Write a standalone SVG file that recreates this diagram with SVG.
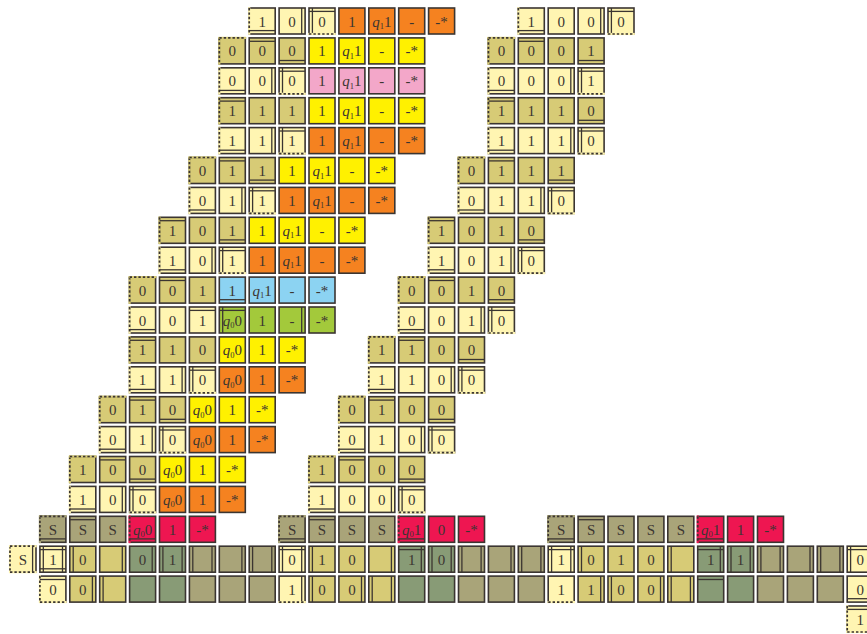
<svg xmlns="http://www.w3.org/2000/svg" xmlns:xlink="http://www.w3.org/1999/xlink" width="867" height="634" viewBox="0 0 867 634">
<style>
.b{fill:currentColor;stroke:#3b3531;stroke-width:1.6}
.w{stroke:#3b3531;stroke-width:1.3;fill:none}
.cv{stroke:currentColor;stroke-width:2.2;fill:none}
.ds{stroke:#3b3531;stroke-width:1.7;stroke-dasharray:2.4 2;fill:none}
text{font-family:"Liberation Serif","Times New Roman",serif;font-size:15px;fill:#3b3531;text-anchor:middle}
.i{font-style:italic}
.s{font-size:8.5px}
.L{color:#FFF5B2}.K{color:#D7CB76}.Y{color:#FFF100}.O{color:#F58220}.P{color:#F3A7C9}.B{color:#8CD3F2}.G{color:#A3C93B}.R{color:#EE1651}.S{color:#A9A479}.N{color:#889B76}
</style>
<defs>
<rect id="bx" class="b" x="1" y="1" width="26" height="26"/>
<path id="wT" class="w" d="M1 4.4H27"/>
<path id="wB" class="w" d="M1 23.6H27"/>
<path id="wL" class="w" d="M4.4 1V27"/>
<path id="wR" class="w" d="M23.6 1V27"/>
<g id="xT"><path class="cv" d="M0.2 1H27.8"/><path class="ds" d="M1 1H27"/></g>
<g id="xB"><path class="cv" d="M0.2 27H27.8"/><path class="ds" d="M1 27H27"/></g>
<g id="xL"><path class="cv" d="M1 0.2V27.8"/><path class="ds" d="M1 1V27"/></g>
<g id="xR"><path class="cv" d="M27 0.2V27.8"/><path class="ds" d="M27 1V27"/></g>
</defs>
<rect width="867" height="634" fill="#ffffff"/>
<g id="tiles">
<!-- row 0 -->
<g id="t0-8" class="L" transform="translate(248.2,7)"><use href="#bx"/><text x="14" y="19.5">1</text><use href="#xL"/><use href="#wB"/></g>
<g id="t0-9" class="L" transform="translate(278.1,7)"><use href="#bx"/><text x="14" y="19.5">0</text><use href="#wR"/></g>
<g id="t0-10" class="L" transform="translate(308,7)"><use href="#bx"/><text x="14" y="19.5">0</text><use href="#wL"/><use href="#wT"/><use href="#xB"/></g>
<g id="t0-11" class="O" transform="translate(337.9,7)"><use href="#bx"/><text x="14" y="19.5">1</text></g>
<g id="t0-12" class="O" transform="translate(367.8,7)"><use href="#bx"/><text x="14" y="19.5"><tspan class="i">q</tspan><tspan class="s" dy="2.5">1</tspan><tspan dy="-2.5">1</tspan></text></g>
<g id="t0-13" class="O" transform="translate(397.7,7)"><use href="#bx"/><text x="14" y="19.5">-</text></g>
<g id="t0-14" class="O" transform="translate(427.6,7)"><use href="#bx"/><text x="14" y="19.5">-*</text></g>
<g id="t0-17" class="L" transform="translate(517.3,7)"><use href="#bx"/><text x="14" y="19.5">1</text><use href="#xL"/><use href="#wB"/></g>
<g id="t0-18" class="L" transform="translate(547.2,7)"><use href="#bx"/><text x="14" y="19.5">0</text></g>
<g id="t0-19" class="L" transform="translate(577.1,7)"><use href="#bx"/><text x="14" y="19.5">0</text><use href="#wR"/></g>
<g id="t0-20" class="L" transform="translate(607,7)"><use href="#bx"/><text x="14" y="19.5">0</text><use href="#wL"/><use href="#wT"/><use href="#xB"/></g>
<!-- row 1 -->
<g id="t1-7" class="K" transform="translate(218.3,36.9)"><use href="#bx"/><text x="14" y="19.5">0</text><use href="#xL"/><use href="#xT"/></g>
<g id="t1-8" class="K" transform="translate(248.2,36.9)"><use href="#bx"/><text x="14" y="19.5">0</text><use href="#wT"/></g>
<g id="t1-9" class="K" transform="translate(278.1,36.9)"><use href="#bx"/><text x="14" y="19.5">0</text><use href="#wB"/></g>
<g id="t1-10" class="Y" transform="translate(308,36.9)"><use href="#bx"/><text x="14" y="19.5">1</text></g>
<g id="t1-11" class="Y" transform="translate(337.9,36.9)"><use href="#bx"/><text x="14" y="19.5"><tspan class="i">q</tspan><tspan class="s" dy="2.5">1</tspan><tspan dy="-2.5">1</tspan></text></g>
<g id="t1-12" class="Y" transform="translate(367.8,36.9)"><use href="#bx"/><text x="14" y="19.5">-</text></g>
<g id="t1-13" class="Y" transform="translate(397.7,36.9)"><use href="#bx"/><text x="14" y="19.5">-*</text></g>
<g id="t1-16" class="K" transform="translate(487.4,36.9)"><use href="#bx"/><text x="14" y="19.5">0</text><use href="#xL"/><use href="#xT"/></g>
<g id="t1-17" class="K" transform="translate(517.3,36.9)"><use href="#bx"/><text x="14" y="19.5">0</text><use href="#wT"/></g>
<g id="t1-18" class="K" transform="translate(547.2,36.9)"><use href="#bx"/><text x="14" y="19.5">0</text></g>
<g id="t1-19" class="K" transform="translate(577.1,36.9)"><use href="#bx"/><text x="14" y="19.5">1</text><use href="#wB"/></g>
<!-- row 2 -->
<g id="t2-7" class="L" transform="translate(218.3,66.8)"><use href="#bx"/><text x="14" y="19.5">0</text><use href="#xL"/><use href="#wB"/></g>
<g id="t2-8" class="L" transform="translate(248.2,66.8)"><use href="#bx"/><text x="14" y="19.5">0</text><use href="#wR"/></g>
<g id="t2-9" class="L" transform="translate(278.1,66.8)"><use href="#bx"/><text x="14" y="19.5">0</text><use href="#wL"/><use href="#wT"/><use href="#xB"/></g>
<g id="t2-10" class="P" transform="translate(308,66.8)"><use href="#bx"/><text x="14" y="19.5">1</text></g>
<g id="t2-11" class="P" transform="translate(337.9,66.8)"><use href="#bx"/><text x="14" y="19.5"><tspan class="i">q</tspan><tspan class="s" dy="2.5">1</tspan><tspan dy="-2.5">1</tspan></text></g>
<g id="t2-12" class="P" transform="translate(367.8,66.8)"><use href="#bx"/><text x="14" y="19.5">-</text></g>
<g id="t2-13" class="P" transform="translate(397.7,66.8)"><use href="#bx"/><text x="14" y="19.5">-*</text></g>
<g id="t2-16" class="L" transform="translate(487.4,66.8)"><use href="#bx"/><text x="14" y="19.5">0</text><use href="#xL"/><use href="#wB"/></g>
<g id="t2-17" class="L" transform="translate(517.3,66.8)"><use href="#bx"/><text x="14" y="19.5">0</text></g>
<g id="t2-18" class="L" transform="translate(547.2,66.8)"><use href="#bx"/><text x="14" y="19.5">0</text><use href="#wR"/></g>
<g id="t2-19" class="L" transform="translate(577.1,66.8)"><use href="#bx"/><text x="14" y="19.5">1</text><use href="#wL"/><use href="#wT"/><use href="#xB"/></g>
<!-- row 3 -->
<g id="t3-7" class="K" transform="translate(218.3,96.7)"><use href="#bx"/><text x="14" y="19.5">1</text><use href="#xL"/><use href="#wT"/></g>
<g id="t3-8" class="K" transform="translate(248.2,96.7)"><use href="#bx"/><text x="14" y="19.5">1</text></g>
<g id="t3-9" class="K" transform="translate(278.1,96.7)"><use href="#bx"/><text x="14" y="19.5">1</text></g>
<g id="t3-10" class="Y" transform="translate(308,96.7)"><use href="#bx"/><text x="14" y="19.5">1</text></g>
<g id="t3-11" class="Y" transform="translate(337.9,96.7)"><use href="#bx"/><text x="14" y="19.5"><tspan class="i">q</tspan><tspan class="s" dy="2.5">1</tspan><tspan dy="-2.5">1</tspan></text></g>
<g id="t3-12" class="Y" transform="translate(367.8,96.7)"><use href="#bx"/><text x="14" y="19.5">-</text></g>
<g id="t3-13" class="Y" transform="translate(397.7,96.7)"><use href="#bx"/><text x="14" y="19.5">-*</text></g>
<g id="t3-16" class="K" transform="translate(487.4,96.7)"><use href="#bx"/><text x="14" y="19.5">1</text><use href="#xL"/><use href="#wT"/></g>
<g id="t3-17" class="K" transform="translate(517.3,96.7)"><use href="#bx"/><text x="14" y="19.5">1</text></g>
<g id="t3-18" class="K" transform="translate(547.2,96.7)"><use href="#bx"/><text x="14" y="19.5">1</text></g>
<g id="t3-19" class="K" transform="translate(577.1,96.7)"><use href="#bx"/><text x="14" y="19.5">0</text><use href="#wB"/></g>
<!-- row 4 -->
<g id="t4-7" class="L" transform="translate(218.3,126.6)"><use href="#bx"/><text x="14" y="19.5">1</text><use href="#xL"/><use href="#wB"/></g>
<g id="t4-8" class="L" transform="translate(248.2,126.6)"><use href="#bx"/><text x="14" y="19.5">1</text><use href="#wR"/></g>
<g id="t4-9" class="L" transform="translate(278.1,126.6)"><use href="#bx"/><text x="14" y="19.5">1</text><use href="#wL"/><use href="#wT"/><use href="#xB"/></g>
<g id="t4-10" class="O" transform="translate(308,126.6)"><use href="#bx"/><text x="14" y="19.5">1</text></g>
<g id="t4-11" class="O" transform="translate(337.9,126.6)"><use href="#bx"/><text x="14" y="19.5"><tspan class="i">q</tspan><tspan class="s" dy="2.5">1</tspan><tspan dy="-2.5">1</tspan></text></g>
<g id="t4-12" class="O" transform="translate(367.8,126.6)"><use href="#bx"/><text x="14" y="19.5">-</text></g>
<g id="t4-13" class="O" transform="translate(397.7,126.6)"><use href="#bx"/><text x="14" y="19.5">-*</text></g>
<g id="t4-16" class="L" transform="translate(487.4,126.6)"><use href="#bx"/><text x="14" y="19.5">1</text><use href="#xL"/><use href="#wB"/></g>
<g id="t4-17" class="L" transform="translate(517.3,126.6)"><use href="#bx"/><text x="14" y="19.5">1</text></g>
<g id="t4-18" class="L" transform="translate(547.2,126.6)"><use href="#bx"/><text x="14" y="19.5">1</text><use href="#wR"/></g>
<g id="t4-19" class="L" transform="translate(577.1,126.6)"><use href="#bx"/><text x="14" y="19.5">0</text><use href="#wL"/><use href="#wT"/><use href="#xB"/></g>
<!-- row 5 -->
<g id="t5-6" class="K" transform="translate(188.4,156.5)"><use href="#bx"/><text x="14" y="19.5">0</text><use href="#xL"/><use href="#xT"/></g>
<g id="t5-7" class="K" transform="translate(218.3,156.5)"><use href="#bx"/><text x="14" y="19.5">1</text><use href="#wT"/></g>
<g id="t5-8" class="K" transform="translate(248.2,156.5)"><use href="#bx"/><text x="14" y="19.5">1</text><use href="#wB"/></g>
<g id="t5-9" class="Y" transform="translate(278.1,156.5)"><use href="#bx"/><text x="14" y="19.5">1</text></g>
<g id="t5-10" class="Y" transform="translate(308,156.5)"><use href="#bx"/><text x="14" y="19.5"><tspan class="i">q</tspan><tspan class="s" dy="2.5">1</tspan><tspan dy="-2.5">1</tspan></text></g>
<g id="t5-11" class="Y" transform="translate(337.9,156.5)"><use href="#bx"/><text x="14" y="19.5">-</text></g>
<g id="t5-12" class="Y" transform="translate(367.8,156.5)"><use href="#bx"/><text x="14" y="19.5">-*</text></g>
<g id="t5-15" class="K" transform="translate(457.5,156.5)"><use href="#bx"/><text x="14" y="19.5">0</text><use href="#xL"/><use href="#xT"/></g>
<g id="t5-16" class="K" transform="translate(487.4,156.5)"><use href="#bx"/><text x="14" y="19.5">1</text><use href="#wT"/></g>
<g id="t5-17" class="K" transform="translate(517.3,156.5)"><use href="#bx"/><text x="14" y="19.5">1</text></g>
<g id="t5-18" class="K" transform="translate(547.2,156.5)"><use href="#bx"/><text x="14" y="19.5">1</text><use href="#wB"/></g>
<!-- row 6 -->
<g id="t6-6" class="L" transform="translate(188.4,186.4)"><use href="#bx"/><text x="14" y="19.5">0</text><use href="#xL"/><use href="#wB"/></g>
<g id="t6-7" class="L" transform="translate(218.3,186.4)"><use href="#bx"/><text x="14" y="19.5">1</text><use href="#wR"/></g>
<g id="t6-8" class="L" transform="translate(248.2,186.4)"><use href="#bx"/><text x="14" y="19.5">1</text><use href="#wL"/><use href="#wT"/><use href="#xB"/></g>
<g id="t6-9" class="O" transform="translate(278.1,186.4)"><use href="#bx"/><text x="14" y="19.5">1</text></g>
<g id="t6-10" class="O" transform="translate(308,186.4)"><use href="#bx"/><text x="14" y="19.5"><tspan class="i">q</tspan><tspan class="s" dy="2.5">1</tspan><tspan dy="-2.5">1</tspan></text></g>
<g id="t6-11" class="O" transform="translate(337.9,186.4)"><use href="#bx"/><text x="14" y="19.5">-</text></g>
<g id="t6-12" class="O" transform="translate(367.8,186.4)"><use href="#bx"/><text x="14" y="19.5">-*</text></g>
<g id="t6-15" class="L" transform="translate(457.5,186.4)"><use href="#bx"/><text x="14" y="19.5">0</text><use href="#xL"/><use href="#wB"/></g>
<g id="t6-16" class="L" transform="translate(487.4,186.4)"><use href="#bx"/><text x="14" y="19.5">1</text></g>
<g id="t6-17" class="L" transform="translate(517.3,186.4)"><use href="#bx"/><text x="14" y="19.5">1</text><use href="#wR"/></g>
<g id="t6-18" class="L" transform="translate(547.2,186.4)"><use href="#bx"/><text x="14" y="19.5">0</text><use href="#wL"/><use href="#wT"/><use href="#xB"/></g>
<!-- row 7 -->
<g id="t7-5" class="K" transform="translate(158.5,216.3)"><use href="#bx"/><text x="14" y="19.5">1</text><use href="#xL"/><use href="#wT"/></g>
<g id="t7-6" class="K" transform="translate(188.4,216.3)"><use href="#bx"/><text x="14" y="19.5">0</text></g>
<g id="t7-7" class="K" transform="translate(218.3,216.3)"><use href="#bx"/><text x="14" y="19.5">1</text><use href="#wB"/></g>
<g id="t7-8" class="Y" transform="translate(248.2,216.3)"><use href="#bx"/><text x="14" y="19.5">1</text></g>
<g id="t7-9" class="Y" transform="translate(278.1,216.3)"><use href="#bx"/><text x="14" y="19.5"><tspan class="i">q</tspan><tspan class="s" dy="2.5">1</tspan><tspan dy="-2.5">1</tspan></text></g>
<g id="t7-10" class="Y" transform="translate(308,216.3)"><use href="#bx"/><text x="14" y="19.5">-</text></g>
<g id="t7-11" class="Y" transform="translate(337.9,216.3)"><use href="#bx"/><text x="14" y="19.5">-*</text></g>
<g id="t7-14" class="K" transform="translate(427.6,216.3)"><use href="#bx"/><text x="14" y="19.5">1</text><use href="#xL"/><use href="#wT"/></g>
<g id="t7-15" class="K" transform="translate(457.5,216.3)"><use href="#bx"/><text x="14" y="19.5">0</text></g>
<g id="t7-16" class="K" transform="translate(487.4,216.3)"><use href="#bx"/><text x="14" y="19.5">1</text></g>
<g id="t7-17" class="K" transform="translate(517.3,216.3)"><use href="#bx"/><text x="14" y="19.5">0</text><use href="#wB"/></g>
<!-- row 8 -->
<g id="t8-5" class="L" transform="translate(158.5,246.2)"><use href="#bx"/><text x="14" y="19.5">1</text><use href="#xL"/><use href="#wB"/></g>
<g id="t8-6" class="L" transform="translate(188.4,246.2)"><use href="#bx"/><text x="14" y="19.5">0</text><use href="#wR"/></g>
<g id="t8-7" class="L" transform="translate(218.3,246.2)"><use href="#bx"/><text x="14" y="19.5">1</text><use href="#wL"/><use href="#wT"/><use href="#xB"/></g>
<g id="t8-8" class="O" transform="translate(248.2,246.2)"><use href="#bx"/><text x="14" y="19.5">1</text></g>
<g id="t8-9" class="O" transform="translate(278.1,246.2)"><use href="#bx"/><text x="14" y="19.5"><tspan class="i">q</tspan><tspan class="s" dy="2.5">1</tspan><tspan dy="-2.5">1</tspan></text></g>
<g id="t8-10" class="O" transform="translate(308,246.2)"><use href="#bx"/><text x="14" y="19.5">-</text></g>
<g id="t8-11" class="O" transform="translate(337.9,246.2)"><use href="#bx"/><text x="14" y="19.5">-*</text></g>
<g id="t8-14" class="L" transform="translate(427.6,246.2)"><use href="#bx"/><text x="14" y="19.5">1</text><use href="#xL"/><use href="#wB"/></g>
<g id="t8-15" class="L" transform="translate(457.5,246.2)"><use href="#bx"/><text x="14" y="19.5">0</text></g>
<g id="t8-16" class="L" transform="translate(487.4,246.2)"><use href="#bx"/><text x="14" y="19.5">1</text><use href="#wR"/></g>
<g id="t8-17" class="L" transform="translate(517.3,246.2)"><use href="#bx"/><text x="14" y="19.5">0</text><use href="#wL"/><use href="#wT"/><use href="#xB"/></g>
<!-- row 9 -->
<g id="t9-4" class="K" transform="translate(128.6,276.1)"><use href="#bx"/><text x="14" y="19.5">0</text><use href="#xL"/><use href="#xT"/></g>
<g id="t9-5" class="K" transform="translate(158.5,276.1)"><use href="#bx"/><text x="14" y="19.5">0</text><use href="#wT"/></g>
<g id="t9-6" class="K" transform="translate(188.4,276.1)"><use href="#bx"/><text x="14" y="19.5">1</text></g>
<g id="t9-7" class="B" transform="translate(218.3,276.1)"><use href="#bx"/><text x="14" y="19.5">1</text><use href="#wB"/></g>
<g id="t9-8" class="B" transform="translate(248.2,276.1)"><use href="#bx"/><text x="14" y="19.5"><tspan class="i">q</tspan><tspan class="s" dy="2.5">1</tspan><tspan dy="-2.5">1</tspan></text></g>
<g id="t9-9" class="B" transform="translate(278.1,276.1)"><use href="#bx"/><text x="14" y="19.5">-</text></g>
<g id="t9-10" class="B" transform="translate(308,276.1)"><use href="#bx"/><text x="14" y="19.5">-*</text></g>
<g id="t9-13" class="K" transform="translate(397.7,276.1)"><use href="#bx"/><text x="14" y="19.5">0</text><use href="#xL"/><use href="#xT"/></g>
<g id="t9-14" class="K" transform="translate(427.6,276.1)"><use href="#bx"/><text x="14" y="19.5">0</text><use href="#wT"/></g>
<g id="t9-15" class="K" transform="translate(457.5,276.1)"><use href="#bx"/><text x="14" y="19.5">1</text></g>
<g id="t9-16" class="K" transform="translate(487.4,276.1)"><use href="#bx"/><text x="14" y="19.5">0</text><use href="#wB"/></g>
<!-- row 10 -->
<g id="t10-4" class="L" transform="translate(128.6,306)"><use href="#bx"/><text x="14" y="19.5">0</text><use href="#xL"/><use href="#wB"/></g>
<g id="t10-5" class="L" transform="translate(158.5,306)"><use href="#bx"/><text x="14" y="19.5">0</text></g>
<g id="t10-6" class="L" transform="translate(188.4,306)"><use href="#bx"/><text x="14" y="19.5">1</text><use href="#wT"/></g>
<g id="t10-7" class="G" transform="translate(218.3,306)"><use href="#bx"/><text x="14" y="19.5"><tspan class="i">q</tspan><tspan class="s" dy="2.5">0</tspan><tspan dy="-2.5">0</tspan></text><use href="#wL"/><use href="#wT"/></g>
<g id="t10-8" class="G" transform="translate(248.2,306)"><use href="#bx"/><text x="14" y="19.5">1</text></g>
<g id="t10-9" class="G" transform="translate(278.1,306)"><use href="#bx"/><text x="14" y="19.5">-</text><use href="#wR"/></g>
<g id="t10-10" class="G" transform="translate(308,306)"><use href="#bx"/><text x="14" y="19.5">-*</text></g>
<g id="t10-13" class="L" transform="translate(397.7,306)"><use href="#bx"/><text x="14" y="19.5">0</text><use href="#xL"/><use href="#wB"/></g>
<g id="t10-14" class="L" transform="translate(427.6,306)"><use href="#bx"/><text x="14" y="19.5">0</text></g>
<g id="t10-15" class="L" transform="translate(457.5,306)"><use href="#bx"/><text x="14" y="19.5">1</text><use href="#wR"/></g>
<g id="t10-16" class="L" transform="translate(487.4,306)"><use href="#bx"/><text x="14" y="19.5">0</text><use href="#wL"/><use href="#wT"/><use href="#xB"/></g>
<!-- row 11 -->
<g id="t11-4" class="K" transform="translate(128.6,335.9)"><use href="#bx"/><text x="14" y="19.5">1</text><use href="#xL"/><use href="#wT"/></g>
<g id="t11-5" class="K" transform="translate(158.5,335.9)"><use href="#bx"/><text x="14" y="19.5">1</text></g>
<g id="t11-6" class="K" transform="translate(188.4,335.9)"><use href="#bx"/><text x="14" y="19.5">0</text></g>
<g id="t11-7" class="Y" transform="translate(218.3,335.9)"><use href="#bx"/><text x="14" y="19.5"><tspan class="i">q</tspan><tspan class="s" dy="2.5">0</tspan><tspan dy="-2.5">0</tspan></text></g>
<g id="t11-8" class="Y" transform="translate(248.2,335.9)"><use href="#bx"/><text x="14" y="19.5">1</text></g>
<g id="t11-9" class="Y" transform="translate(278.1,335.9)"><use href="#bx"/><text x="14" y="19.5">-*</text></g>
<g id="t11-12" class="K" transform="translate(367.8,335.9)"><use href="#bx"/><text x="14" y="19.5">1</text><use href="#xL"/><use href="#xT"/></g>
<g id="t11-13" class="K" transform="translate(397.7,335.9)"><use href="#bx"/><text x="14" y="19.5">1</text><use href="#wT"/></g>
<g id="t11-14" class="K" transform="translate(427.6,335.9)"><use href="#bx"/><text x="14" y="19.5">0</text></g>
<g id="t11-15" class="K" transform="translate(457.5,335.9)"><use href="#bx"/><text x="14" y="19.5">0</text><use href="#wB"/></g>
<!-- row 12 -->
<g id="t12-4" class="L" transform="translate(128.6,365.8)"><use href="#bx"/><text x="14" y="19.5">1</text><use href="#xL"/><use href="#wB"/></g>
<g id="t12-5" class="L" transform="translate(158.5,365.8)"><use href="#bx"/><text x="14" y="19.5">1</text><use href="#wR"/></g>
<g id="t12-6" class="L" transform="translate(188.4,365.8)"><use href="#bx"/><text x="14" y="19.5">0</text><use href="#wL"/><use href="#wT"/><use href="#xB"/></g>
<g id="t12-7" class="O" transform="translate(218.3,365.8)"><use href="#bx"/><text x="14" y="19.5"><tspan class="i">q</tspan><tspan class="s" dy="2.5">0</tspan><tspan dy="-2.5">0</tspan></text></g>
<g id="t12-8" class="O" transform="translate(248.2,365.8)"><use href="#bx"/><text x="14" y="19.5">1</text></g>
<g id="t12-9" class="O" transform="translate(278.1,365.8)"><use href="#bx"/><text x="14" y="19.5">-*</text></g>
<g id="t12-12" class="L" transform="translate(367.8,365.8)"><use href="#bx"/><text x="14" y="19.5">1</text><use href="#xL"/><use href="#wB"/></g>
<g id="t12-13" class="L" transform="translate(397.7,365.8)"><use href="#bx"/><text x="14" y="19.5">1</text></g>
<g id="t12-14" class="L" transform="translate(427.6,365.8)"><use href="#bx"/><text x="14" y="19.5">0</text><use href="#wR"/></g>
<g id="t12-15" class="L" transform="translate(457.5,365.8)"><use href="#bx"/><text x="14" y="19.5">0</text><use href="#wL"/><use href="#wT"/><use href="#xB"/></g>
<!-- row 13 -->
<g id="t13-3" class="K" transform="translate(98.7,395.7)"><use href="#bx"/><text x="14" y="19.5">0</text><use href="#xL"/><use href="#xT"/></g>
<g id="t13-4" class="K" transform="translate(128.6,395.7)"><use href="#bx"/><text x="14" y="19.5">1</text><use href="#wT"/></g>
<g id="t13-5" class="K" transform="translate(158.5,395.7)"><use href="#bx"/><text x="14" y="19.5">0</text><use href="#wB"/></g>
<g id="t13-6" class="Y" transform="translate(188.4,395.7)"><use href="#bx"/><text x="14" y="19.5"><tspan class="i">q</tspan><tspan class="s" dy="2.5">0</tspan><tspan dy="-2.5">0</tspan></text></g>
<g id="t13-7" class="Y" transform="translate(218.3,395.7)"><use href="#bx"/><text x="14" y="19.5">1</text></g>
<g id="t13-8" class="Y" transform="translate(248.2,395.7)"><use href="#bx"/><text x="14" y="19.5">-*</text></g>
<g id="t13-11" class="K" transform="translate(337.9,395.7)"><use href="#bx"/><text x="14" y="19.5">0</text><use href="#xL"/><use href="#xT"/></g>
<g id="t13-12" class="K" transform="translate(367.8,395.7)"><use href="#bx"/><text x="14" y="19.5">1</text><use href="#wT"/></g>
<g id="t13-13" class="K" transform="translate(397.7,395.7)"><use href="#bx"/><text x="14" y="19.5">0</text></g>
<g id="t13-14" class="K" transform="translate(427.6,395.7)"><use href="#bx"/><text x="14" y="19.5">0</text><use href="#wB"/></g>
<!-- row 14 -->
<g id="t14-3" class="L" transform="translate(98.7,425.6)"><use href="#bx"/><text x="14" y="19.5">0</text><use href="#xL"/><use href="#wB"/></g>
<g id="t14-4" class="L" transform="translate(128.6,425.6)"><use href="#bx"/><text x="14" y="19.5">1</text><use href="#wR"/></g>
<g id="t14-5" class="L" transform="translate(158.5,425.6)"><use href="#bx"/><text x="14" y="19.5">0</text><use href="#wL"/><use href="#wT"/><use href="#xB"/></g>
<g id="t14-6" class="O" transform="translate(188.4,425.6)"><use href="#bx"/><text x="14" y="19.5"><tspan class="i">q</tspan><tspan class="s" dy="2.5">0</tspan><tspan dy="-2.5">0</tspan></text></g>
<g id="t14-7" class="O" transform="translate(218.3,425.6)"><use href="#bx"/><text x="14" y="19.5">1</text></g>
<g id="t14-8" class="O" transform="translate(248.2,425.6)"><use href="#bx"/><text x="14" y="19.5">-*</text></g>
<g id="t14-11" class="L" transform="translate(337.9,425.6)"><use href="#bx"/><text x="14" y="19.5">0</text><use href="#xL"/><use href="#wB"/></g>
<g id="t14-12" class="L" transform="translate(367.8,425.6)"><use href="#bx"/><text x="14" y="19.5">1</text></g>
<g id="t14-13" class="L" transform="translate(397.7,425.6)"><use href="#bx"/><text x="14" y="19.5">0</text><use href="#wR"/></g>
<g id="t14-14" class="L" transform="translate(427.6,425.6)"><use href="#bx"/><text x="14" y="19.5">0</text><use href="#wL"/><use href="#wT"/><use href="#xB"/></g>
<!-- row 15 -->
<g id="t15-2" class="K" transform="translate(68.8,455.5)"><use href="#bx"/><text x="14" y="19.5">1</text><use href="#xL"/><use href="#xT"/></g>
<g id="t15-3" class="K" transform="translate(98.7,455.5)"><use href="#bx"/><text x="14" y="19.5">0</text><use href="#wT"/></g>
<g id="t15-4" class="K" transform="translate(128.6,455.5)"><use href="#bx"/><text x="14" y="19.5">0</text><use href="#wB"/></g>
<g id="t15-5" class="Y" transform="translate(158.5,455.5)"><use href="#bx"/><text x="14" y="19.5"><tspan class="i">q</tspan><tspan class="s" dy="2.5">0</tspan><tspan dy="-2.5">0</tspan></text></g>
<g id="t15-6" class="Y" transform="translate(188.4,455.5)"><use href="#bx"/><text x="14" y="19.5">1</text></g>
<g id="t15-7" class="Y" transform="translate(218.3,455.5)"><use href="#bx"/><text x="14" y="19.5">-*</text></g>
<g id="t15-10" class="K" transform="translate(308,455.5)"><use href="#bx"/><text x="14" y="19.5">1</text><use href="#xL"/><use href="#xT"/></g>
<g id="t15-11" class="K" transform="translate(337.9,455.5)"><use href="#bx"/><text x="14" y="19.5">0</text><use href="#wT"/></g>
<g id="t15-12" class="K" transform="translate(367.8,455.5)"><use href="#bx"/><text x="14" y="19.5">0</text></g>
<g id="t15-13" class="K" transform="translate(397.7,455.5)"><use href="#bx"/><text x="14" y="19.5">0</text><use href="#wB"/></g>
<!-- row 16 -->
<g id="t16-2" class="L" transform="translate(68.8,485.4)"><use href="#bx"/><text x="14" y="19.5">1</text><use href="#xL"/><use href="#wB"/></g>
<g id="t16-3" class="L" transform="translate(98.7,485.4)"><use href="#bx"/><text x="14" y="19.5">0</text><use href="#wR"/></g>
<g id="t16-4" class="L" transform="translate(128.6,485.4)"><use href="#bx"/><text x="14" y="19.5">0</text><use href="#wL"/><use href="#wT"/><use href="#xB"/></g>
<g id="t16-5" class="O" transform="translate(158.5,485.4)"><use href="#bx"/><text x="14" y="19.5"><tspan class="i">q</tspan><tspan class="s" dy="2.5">0</tspan><tspan dy="-2.5">0</tspan></text></g>
<g id="t16-6" class="O" transform="translate(188.4,485.4)"><use href="#bx"/><text x="14" y="19.5">1</text></g>
<g id="t16-7" class="O" transform="translate(218.3,485.4)"><use href="#bx"/><text x="14" y="19.5">-*</text></g>
<g id="t16-10" class="L" transform="translate(308,485.4)"><use href="#bx"/><text x="14" y="19.5">1</text><use href="#xL"/><use href="#wB"/></g>
<g id="t16-11" class="L" transform="translate(337.9,485.4)"><use href="#bx"/><text x="14" y="19.5">0</text></g>
<g id="t16-12" class="L" transform="translate(367.8,485.4)"><use href="#bx"/><text x="14" y="19.5">0</text><use href="#wR"/></g>
<g id="t16-13" class="L" transform="translate(397.7,485.4)"><use href="#bx"/><text x="14" y="19.5">0</text><use href="#wL"/><use href="#wT"/><use href="#xB"/></g>
<!-- row 17 -->
<g id="t17-1" class="S" transform="translate(38.9,515.3)"><use href="#bx"/><text x="14" y="19.5">S</text><use href="#xL"/><use href="#xT"/><use href="#wB"/></g>
<g id="t17-2" class="S" transform="translate(68.8,515.3)"><use href="#bx"/><text x="14" y="19.5">S</text><use href="#wT"/></g>
<g id="t17-3" class="S" transform="translate(98.7,515.3)"><use href="#bx"/><text x="14" y="19.5">S</text></g>
<g id="t17-4" class="R" transform="translate(128.6,515.3)"><use href="#bx"/><text x="14" y="19.5"><tspan class="i">q</tspan><tspan class="s" dy="2.5">0</tspan><tspan dy="-2.5">0</tspan></text><use href="#xL"/><use href="#wB"/></g>
<g id="t17-5" class="R" transform="translate(158.5,515.3)"><use href="#bx"/><text x="14" y="19.5">1</text></g>
<g id="t17-6" class="R" transform="translate(188.4,515.3)"><use href="#bx"/><text x="14" y="19.5">-*</text></g>
<g id="t17-9" class="S" transform="translate(278.1,515.3)"><use href="#bx"/><text x="14" y="19.5">S</text><use href="#xL"/><use href="#xT"/><use href="#wB"/></g>
<g id="t17-10" class="S" transform="translate(308,515.3)"><use href="#bx"/><text x="14" y="19.5">S</text><use href="#wT"/></g>
<g id="t17-11" class="S" transform="translate(337.9,515.3)"><use href="#bx"/><text x="14" y="19.5">S</text></g>
<g id="t17-12" class="S" transform="translate(367.8,515.3)"><use href="#bx"/><text x="14" y="19.5">S</text></g>
<g id="t17-13" class="R" transform="translate(397.7,515.3)"><use href="#bx"/><text x="14" y="19.5"><tspan class="i">q</tspan><tspan class="s" dy="2.5">0</tspan><tspan dy="-2.5">1</tspan></text><use href="#xL"/><use href="#wB"/></g>
<g id="t17-14" class="R" transform="translate(427.6,515.3)"><use href="#bx"/><text x="14" y="19.5">0</text></g>
<g id="t17-15" class="R" transform="translate(457.5,515.3)"><use href="#bx"/><text x="14" y="19.5">-*</text></g>
<g id="t17-18" class="S" transform="translate(547.2,515.3)"><use href="#bx"/><text x="14" y="19.5">S</text><use href="#xL"/><use href="#xT"/><use href="#wB"/></g>
<g id="t17-19" class="S" transform="translate(577.1,515.3)"><use href="#bx"/><text x="14" y="19.5">S</text><use href="#wT"/></g>
<g id="t17-20" class="S" transform="translate(607,515.3)"><use href="#bx"/><text x="14" y="19.5">S</text></g>
<g id="t17-21" class="S" transform="translate(636.9,515.3)"><use href="#bx"/><text x="14" y="19.5">S</text></g>
<g id="t17-22" class="S" transform="translate(666.8,515.3)"><use href="#bx"/><text x="14" y="19.5">S</text></g>
<g id="t17-23" class="R" transform="translate(696.7,515.3)"><use href="#bx"/><text x="14" y="19.5"><tspan class="i">q</tspan><tspan class="s" dy="2.5">0</tspan><tspan dy="-2.5">1</tspan></text><use href="#xL"/><use href="#wB"/></g>
<g id="t17-24" class="R" transform="translate(726.6,515.3)"><use href="#bx"/><text x="14" y="19.5">1</text></g>
<g id="t17-25" class="R" transform="translate(756.5,515.3)"><use href="#bx"/><text x="14" y="19.5">-*</text></g>
<!-- row 18 -->
<g id="t18-0" class="L" transform="translate(9,545.2)"><use href="#bx"/><text x="14" y="19.5">S</text><use href="#xL"/><use href="#xT"/><use href="#xB"/><use href="#wR"/></g>
<g id="t18-1" class="L" transform="translate(38.9,545.2)"><use href="#bx"/><text x="14" y="19.5">1</text><use href="#wL"/><use href="#wR"/><use href="#wT"/><use href="#wB"/></g>
<g id="t18-2" class="K" transform="translate(68.8,545.2)"><use href="#bx"/><text x="14" y="19.5">0</text><use href="#wL"/></g>
<g id="t18-3" class="K" transform="translate(98.7,545.2)"><use href="#bx"/><use href="#wR"/></g>
<g id="t18-4" class="N" transform="translate(128.6,545.2)"><use href="#bx"/><text x="14" y="19.5">0</text><use href="#wR"/></g>
<g id="t18-5" class="N" transform="translate(158.5,545.2)"><use href="#bx"/><text x="14" y="19.5">1</text><use href="#wL"/><use href="#wR"/></g>
<g id="t18-6" class="S" transform="translate(188.4,545.2)"><use href="#bx"/><use href="#wL"/><use href="#wR"/></g>
<g id="t18-7" class="S" transform="translate(218.3,545.2)"><use href="#bx"/><use href="#wR"/></g>
<g id="t18-8" class="S" transform="translate(248.2,545.2)"><use href="#bx"/><use href="#wL"/><use href="#wR"/></g>
<g id="t18-9" class="L" transform="translate(278.1,545.2)"><use href="#bx"/><text x="14" y="19.5">0</text><use href="#wL"/><use href="#wT"/><use href="#wR"/></g>
<g id="t18-10" class="K" transform="translate(308,545.2)"><use href="#bx"/><text x="14" y="19.5">1</text><use href="#wL"/></g>
<g id="t18-11" class="K" transform="translate(337.9,545.2)"><use href="#bx"/><text x="14" y="19.5">0</text></g>
<g id="t18-12" class="K" transform="translate(367.8,545.2)"><use href="#bx"/><use href="#wR"/></g>
<g id="t18-13" class="N" transform="translate(397.7,545.2)"><use href="#bx"/><text x="14" y="19.5">1</text><use href="#wT"/><use href="#wR"/></g>
<g id="t18-14" class="N" transform="translate(427.6,545.2)"><use href="#bx"/><text x="14" y="19.5">0</text><use href="#wL"/><use href="#wR"/></g>
<g id="t18-15" class="S" transform="translate(457.5,545.2)"><use href="#bx"/><use href="#wL"/><use href="#wR"/></g>
<g id="t18-16" class="S" transform="translate(487.4,545.2)"><use href="#bx"/><use href="#wR"/></g>
<g id="t18-17" class="S" transform="translate(517.3,545.2)"><use href="#bx"/><use href="#wL"/><use href="#wR"/></g>
<g id="t18-18" class="L" transform="translate(547.2,545.2)"><use href="#bx"/><text x="14" y="19.5">1</text><use href="#wL"/><use href="#wT"/><use href="#wR"/></g>
<g id="t18-19" class="K" transform="translate(577.1,545.2)"><use href="#bx"/><text x="14" y="19.5">0</text><use href="#wL"/></g>
<g id="t18-20" class="K" transform="translate(607,545.2)"><use href="#bx"/><text x="14" y="19.5">1</text></g>
<g id="t18-21" class="K" transform="translate(636.9,545.2)"><use href="#bx"/><text x="14" y="19.5">0</text></g>
<g id="t18-22" class="K" transform="translate(666.8,545.2)"><use href="#bx"/><use href="#wL"/></g>
<g id="t18-23" class="N" transform="translate(696.7,545.2)"><use href="#bx"/><text x="14" y="19.5">1</text><use href="#wT"/><use href="#wR"/></g>
<g id="t18-24" class="N" transform="translate(726.6,545.2)"><use href="#bx"/><text x="14" y="19.5">1</text><use href="#wL"/><use href="#wR"/></g>
<g id="t18-25" class="S" transform="translate(756.5,545.2)"><use href="#bx"/><use href="#wL"/><use href="#wR"/></g>
<g id="t18-26" class="S" transform="translate(786.4,545.2)"><use href="#bx"/><use href="#wR"/></g>
<g id="t18-27" class="S" transform="translate(816.3,545.2)"><use href="#bx"/><use href="#wL"/><use href="#wR"/></g>
<g id="t18-28" class="L" transform="translate(846.2,545.2)"><use href="#bx"/><text x="14" y="19.5">0</text><use href="#wL"/><use href="#wT"/></g>
<!-- row 19 -->
<g id="t19-1" class="L" transform="translate(38.9,575.1)"><use href="#bx"/><text x="14" y="19.5">0</text><use href="#xL"/><use href="#wT"/><use href="#xB"/></g>
<g id="t19-2" class="K" transform="translate(68.8,575.1)"><use href="#bx"/><text x="14" y="19.5">0</text><use href="#wR"/></g>
<g id="t19-3" class="K" transform="translate(98.7,575.1)"><use href="#bx"/><use href="#wL"/></g>
<g id="t19-4" class="N" transform="translate(128.6,575.1)"><use href="#bx"/></g>
<g id="t19-5" class="N" transform="translate(158.5,575.1)"><use href="#bx"/></g>
<g id="t19-6" class="S" transform="translate(188.4,575.1)"><use href="#bx"/></g>
<g id="t19-7" class="S" transform="translate(218.3,575.1)"><use href="#bx"/></g>
<g id="t19-8" class="S" transform="translate(248.2,575.1)"><use href="#bx"/></g>
<g id="t19-9" class="L" transform="translate(278.1,575.1)"><use href="#bx"/><text x="14" y="19.5">1</text><use href="#wR"/><use href="#xB"/></g>
<g id="t19-10" class="K" transform="translate(308,575.1)"><use href="#bx"/><text x="14" y="19.5">0</text><use href="#wL"/></g>
<g id="t19-11" class="K" transform="translate(337.9,575.1)"><use href="#bx"/><text x="14" y="19.5">0</text><use href="#wR"/></g>
<g id="t19-12" class="K" transform="translate(367.8,575.1)"><use href="#bx"/><use href="#wL"/><use href="#wR"/></g>
<g id="t19-13" class="N" transform="translate(397.7,575.1)"><use href="#bx"/></g>
<g id="t19-14" class="N" transform="translate(427.6,575.1)"><use href="#bx"/></g>
<g id="t19-15" class="S" transform="translate(457.5,575.1)"><use href="#bx"/></g>
<g id="t19-16" class="S" transform="translate(487.4,575.1)"><use href="#bx"/></g>
<g id="t19-17" class="S" transform="translate(517.3,575.1)"><use href="#bx"/></g>
<g id="t19-18" class="L" transform="translate(547.2,575.1)"><use href="#bx"/><text x="14" y="19.5">1</text><use href="#xB"/></g>
<g id="t19-19" class="K" transform="translate(577.1,575.1)"><use href="#bx"/><text x="14" y="19.5">1</text><use href="#wR"/></g>
<g id="t19-20" class="K" transform="translate(607,575.1)"><use href="#bx"/><text x="14" y="19.5">0</text><use href="#wL"/></g>
<g id="t19-21" class="K" transform="translate(636.9,575.1)"><use href="#bx"/><text x="14" y="19.5">0</text><use href="#wR"/></g>
<g id="t19-22" class="K" transform="translate(666.8,575.1)"><use href="#bx"/><use href="#wL"/><use href="#wR"/></g>
<g id="t19-23" class="N" transform="translate(696.7,575.1)"><use href="#bx"/><use href="#wT"/></g>
<g id="t19-24" class="N" transform="translate(726.6,575.1)"><use href="#bx"/></g>
<g id="t19-25" class="S" transform="translate(756.5,575.1)"><use href="#bx"/></g>
<g id="t19-26" class="S" transform="translate(786.4,575.1)"><use href="#bx"/></g>
<g id="t19-27" class="S" transform="translate(816.3,575.1)"><use href="#bx"/></g>
<g id="t19-28" class="L" transform="translate(846.2,575.1)"><use href="#bx"/><text x="14" y="19.5">0</text><use href="#wB"/></g>
<!-- row 20 -->
<g id="t20-28" class="L" transform="translate(846.2,605)"><use href="#bx"/><text x="14" y="19.5">1</text><use href="#xL"/><use href="#wT"/><use href="#xB"/></g>
</g>
</svg>
